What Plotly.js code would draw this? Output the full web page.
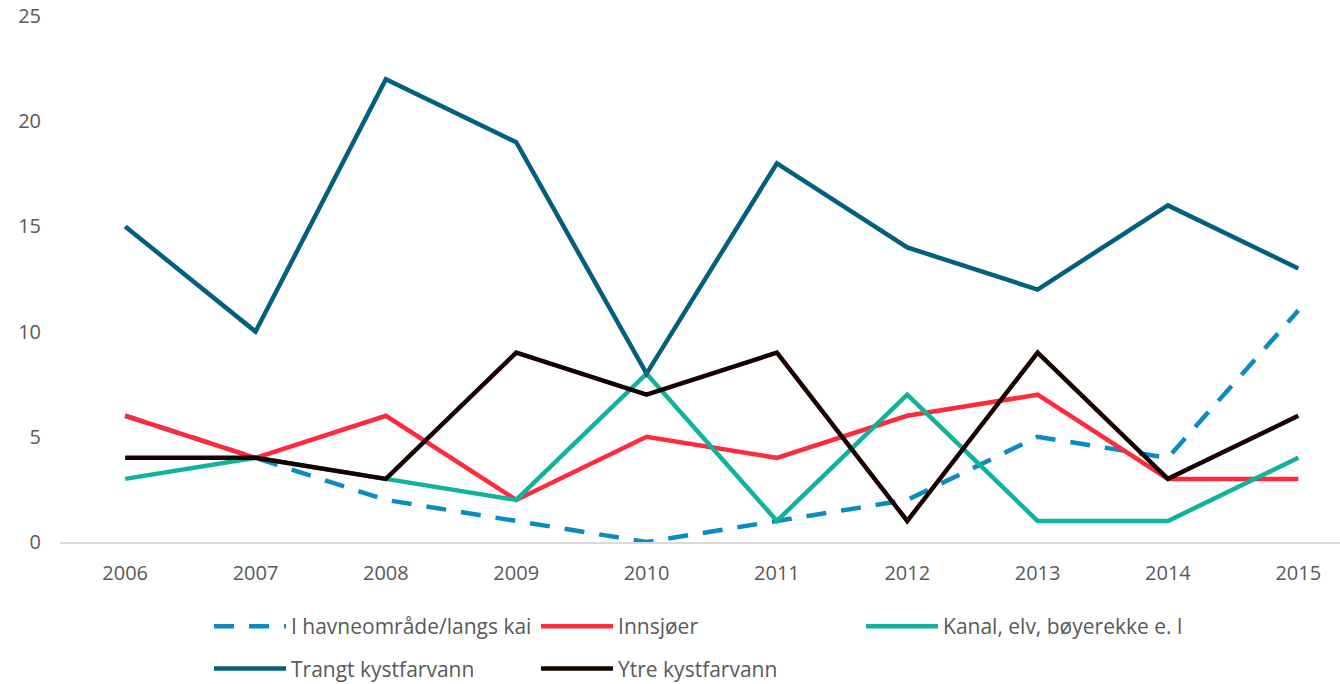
<!DOCTYPE html>
<html>
<head>
<meta charset="utf-8">
<script src="https://cdn.plot.ly/plotly-3.0.1.min.js"></script>
<style>html,body{margin:0;padding:0;background:#fff;}#chart{width:1340px;height:684px;}</style>
</head>
<body>
<div id="chart"></div>
<script>
const years = ["2006","2007","2008","2009","2010","2011","2012","2013","2014","2015"];
const havneomrade = [6, 4, 2, 1, 0, 1, 2, 5, 4, 11];
const innsjoer = [6, 4, 6, 2, 5, 4, 6, 7, 3, 3];
const kanal = [3, 4, 3, 2, 8, 1, 7, 1, 1, 4];
const trangt = [15, 10, 22, 19, 8, 18, 14, 12, 16, 13];
const ytre = [4, 4, 3, 9, 7, 9, 1, 9, 3, 6];
const seriesNames = ["I havneområde/langs kai", "Innsjøer", "Kanal, elv, bøyerekke e. l", "Trangt kystfarvann", "Ytre kystfarvann"];

const font = "Open Sans, sans-serif";
const traces = [
  {x: years, y: havneomrade, name: seriesNames[0], line: {color: "#0a8bc4", width: 4.5, dash: "20px,15px"}, legend: "legend", legendgroup: "a"},
  {x: years, y: innsjoer, name: seriesNames[1], line: {color: "#ff2a3a", width: 4.5}, legend: "legend2", legendgroup: "b"},
  {x: years, y: kanal, name: seriesNames[2], line: {color: "#10b399", width: 4.5}, legend: "legend3", legendgroup: "c"},
  {x: years, y: trangt, name: seriesNames[3], line: {color: "#035f7e", width: 4.5}, legend: "legend", legendgroup: "d"},
  {x: years, y: ytre, name: seriesNames[4], line: {color: "#160000", width: 4.5}, legend: "legend2", legendgroup: "e"}
].map(t => Object.assign({type: "scatter", mode: "lines"}, t));

const legBase = {
  orientation: "v", xref: "paper", yref: "container", yanchor: "top",
  font: {family: font, size: 21, color: "#595959"},
  bgcolor: "rgba(0,0,0,0)", itemwidth: 72, tracegroupgap: 12, traceorder: "grouped"
};
const layout = {
  width: 1340, height: 684,
  margin: {l: 60, r: 0, t: 16, b: 142},
  paper_bgcolor: "#fff", plot_bgcolor: "#fff",
  showlegend: true,
  xaxis: {
    type: "category", range: [-0.5, 9.32],
    showgrid: false, zeroline: false, showline: true, linecolor: "#d9d9d9", linewidth: 1.5,
    ticks: "", tickfont: {family: font, size: 20, color: "#595959"}, ticklabelstandoff: 12
  },
  yaxis: {
    range: [0, 25], tickvals: [0, 5, 10, 15, 20, 25],
    showgrid: false, zeroline: false, showline: false,
    ticks: "", tickfont: {family: font, size: 20, color: "#595959"}, ticklabelstandoff: 18
  },
  legend: Object.assign({}, legBase, {x: 0.1164, y: 0.114}),
  legend2: Object.assign({}, legBase, {x: 0.3719, y: 0.114}),
  legend3: Object.assign({}, legBase, {x: 0.6258, y: 0.114})
};
Plotly.newPlot("chart", traces, layout, {displayModeBar: false, staticPlot: true});
</script>
</body>
</html>
